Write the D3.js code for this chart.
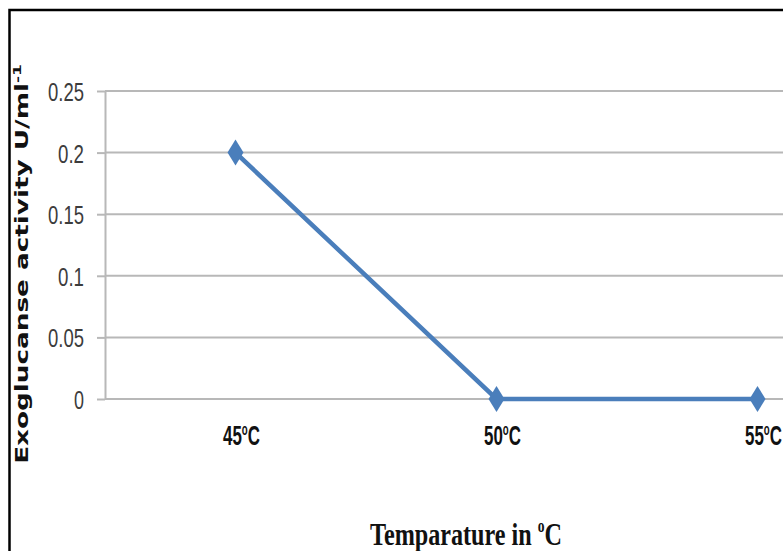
<!DOCTYPE html>
<html>
<head>
<meta charset="utf-8">
<script src="https://cdn.jsdelivr.net/npm/d3@7"></script>
<style>
  html, body { margin: 0; padding: 0; background: #fff; overflow: hidden; }
  svg { display: block; }
</style>
</head>
<body>
<svg id="chart" width="783" height="551"></svg>
<script>
// Exoglucanase activity against incubation temperature
const categories = ["45", "50", "55"];
const activity = [0.2, 0, 0];
const yTicks = [0, 0.05, 0.1, 0.15, 0.2, 0.25];
const yTickLabels = ["0", "0.05", "0.1", "0.15", "0.2", "0.25"];
const yTitle = "Exoglucanse activity U/ml";
const yTitleSup = "-1";
const xTitle = "Temparature in ";
const xTitleUnit = "C";

const svg = d3.select("#chart");

// plot frame (the category band runs past the right edge of the page)
const plotLeft = 105, plotTop = 91, plotBottom = 399, band = 261;
const x = d3.scaleBand().domain(categories).range([plotLeft, plotLeft + band * categories.length]);
const y = d3.scaleLinear().domain([0, 0.25]).range([plotBottom, plotTop]);
const cx = d => x(d) + x.bandwidth() / 2;

// outer border of the figure
svg.append("rect")
  .attr("x", 9.5).attr("y", 10).attr("width", 900).attr("height", 700)
  .attr("fill", "none").attr("stroke", "#000").attr("stroke-width", 2.5);

// horizontal gridlines
svg.append("g").selectAll("line").data(yTicks).join("line")
  .attr("x1", plotLeft).attr("x2", 800)
  .attr("y1", d => y(d)).attr("y2", d => y(d))
  .attr("stroke", "#b8b8b8").attr("stroke-width", 2);

// vertical axis with outward ticks
const yAxis = svg.append("g")
  .attr("transform", `translate(${plotLeft},0)`)
  .call(d3.axisLeft(y).tickValues(yTicks).tickSize(8).tickSizeOuter(0).tickFormat(() => ""));
yAxis.selectAll("path.domain").attr("stroke", "#b8b8b8").attr("stroke-width", 2);
yAxis.selectAll(".tick line").attr("stroke", "#b8b8b8").attr("stroke-width", 2);

// scale a text element horizontally so it spans the given width
function fitWidth(sel, px, py, w) {
  const bb = sel.node().getBBox();
  const s = w / bb.width;
  sel.attr("transform", `translate(${px},${py}) scale(${s},1)`);
}

// y tick labels (right aligned)
yTicks.forEach((v, i) => {
  const label = yTickLabels[i];
  const t = svg.append("text")
    .attr("text-anchor", "end")
    .attr("font-family", "'Liberation Sans', Arial, sans-serif")
    .attr("font-size", 26).attr("fill", "#3c3c3c")
    .text(label);
  const w = label.replace(/\./g, "").length * 10 + (label.includes(".") ? 6 : 0);
  fitWidth(t, 84, y(v) + 10, w);
});

// series line
svg.append("path")
  .datum(activity)
  .attr("fill", "none").attr("stroke", "#4a7ebb").attr("stroke-width", 4.5)
  .attr("d", d3.line().x((d, i) => cx(categories[i])).y(d => y(d)));

// diamond markers
svg.append("g").selectAll("path").data(activity).join("path")
  .attr("transform", (d, i) => `translate(${cx(categories[i])},${y(d)})`)
  .attr("d", "M0,-13L8,0L0,13L-8,0Z")
  .attr("fill", "#4a7ebb");

// category labels
categories.forEach(c => {
  const t = svg.append("text")
    .attr("text-anchor", "middle")
    .attr("font-family", "'Liberation Sans', Arial, sans-serif")
    .attr("font-weight", "bold").attr("font-size", 28).attr("fill", "#111");
  t.append("tspan").text(c);
  t.append("tspan").attr("font-size", 16).attr("dy", -10).text("o");
  t.append("tspan").attr("dy", 10).text("C");
  fitWidth(t, cx(c) + 6, 445, 37);
});

// x axis title
const xt = svg.append("text")
  .attr("text-anchor", "middle")
  .attr("font-family", "'Liberation Serif', 'Times New Roman', serif")
  .attr("font-weight", "bold")
  .attr("font-size", 32).attr("fill", "#111");
xt.append("tspan").text(xTitle);
xt.append("tspan").attr("font-size", 18).attr("dy", -13).text("o");
xt.append("tspan").attr("dy", 13).text(xTitleUnit);
fitWidth(xt, 466, 545, 192);

// y axis title (rotated)
const yt = svg.append("text")
  .attr("text-anchor", "middle")
  .attr("font-family", "'DejaVu Sans', Verdana, sans-serif")
  .attr("font-weight", "bold").attr("font-size", 17).attr("fill", "#111");
yt.append("tspan").text(yTitle);
yt.append("tspan").attr("font-size", 11).attr("dy", -7).text(yTitleSup);
{
  const bb = yt.node().getBBox();
  const s = 400 / bb.width;
  yt.attr("transform", `translate(28,264) rotate(-90) scale(${s},1)`);
}
</script>
</body>
</html>
